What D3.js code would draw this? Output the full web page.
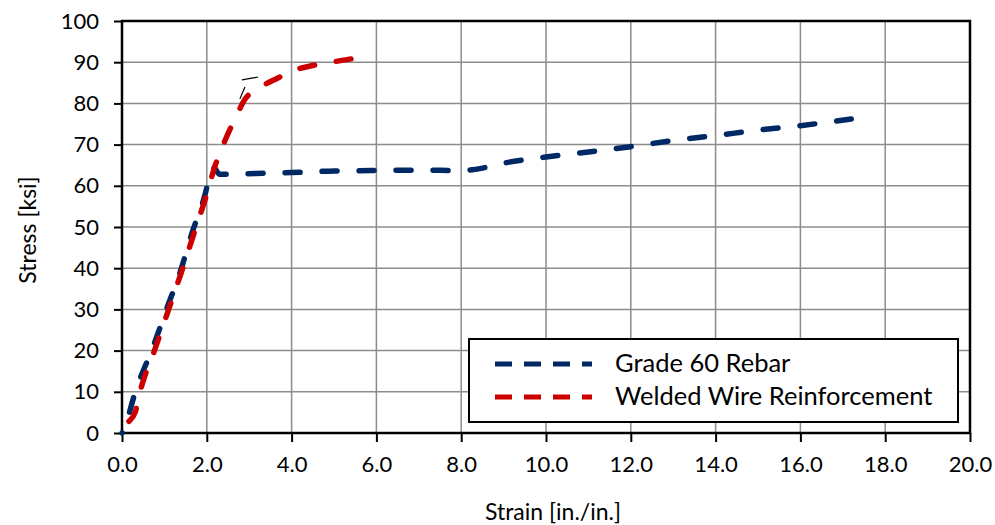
<!DOCTYPE html>
<html><head><meta charset="utf-8">
<script src="https://cdn.jsdelivr.net/npm/d3@7"></script>
<style>body{margin:0;background:#fff}svg{display:block}text{font-family:Lato,"Open Sans",sans-serif;fill:#000}</style>
</head><body>
<svg id="c" width="995" height="525"></svg>
<script>
const xTicks = [0,2,4,6,8,10,12,14,16,18,20];
const yTicks = [0,10,20,30,40,50,60,70,80,90,100];
const seriesNames = ["Grade 60 Rebar","Welded Wire Reinforcement"];
const seriesColors = ["#002864","#cc0000"];
const rebar = [[0,0],[0.1,2.5],[0.3,9.5],[0.75,21.4],[1.06,30.3],[1.37,39],[1.65,48.5],[1.95,57.5],[2.1,63.5],[2.17,64.3],[2.3,62.8],[2.8,62.9],[3.5,63.1],[4.0,63.2],[5.0,63.6],[6.0,63.7],[7.0,63.8],[8.0,63.7],[8.5,64.3],[9.0,65.5],[10.0,67],[11.0,68.2],[12.0,69.5],[13.0,71],[14.0,72.2],[15.0,73.5],[16.0,74.6],[17.2,76.2]];
const wwr = [[0,0],[0.1,2],[0.31,5],[0.4,9],[0.8,21],[1.1,30],[1.4,39],[1.7,48.5],[2.0,58],[2.2,65],[2.43,71],[2.7,77],[2.9,81],[3.1,83],[3.3,84.2],[3.7,86.3],[4.1,88.2],[4.5,89.2],[5.0,90.1],[5.4,90.8]];
const annot = [[[2.78,81.1],[2.9,84.0]],[[2.83,85.7],[3.21,86.4]]];

const svg = d3.select("#c");
const m = {l:122,t:21,r:970,b:433};
const x = d3.scaleLinear().domain([0,20]).range([m.l,m.r]);
const y = d3.scaleLinear().domain([0,100]).range([m.b,m.t]);

// grid
svg.append("g").selectAll("line").data(xTicks.slice(1,-1)).join("line")
  .attr("x1",d=>x(d)).attr("x2",d=>x(d)).attr("y1",m.t).attr("y2",m.b)
  .attr("stroke","#8c8c8c").attr("stroke-width",1.5);
svg.append("g").selectAll("line").data(yTicks.slice(1,-1)).join("line")
  .attr("y1",d=>y(d)).attr("y2",d=>y(d)).attr("x1",m.l).attr("x2",m.r)
  .attr("stroke","#8c8c8c").attr("stroke-width",1.5);

// axes
const xa = svg.append("g").attr("transform",`translate(0,${m.b})`)
  .call(d3.axisBottom(x).tickValues(xTicks).tickFormat(d3.format(".1f")).tickSize(9).tickPadding(14));
const ya = svg.append("g").attr("transform",`translate(${m.l},0)`)
  .call(d3.axisLeft(y).tickValues(yTicks).tickSize(8).tickPadding(15));
[xa,ya].forEach(a=>{
  a.select(".domain").remove();
  a.selectAll(".tick line").attr("stroke","#000").attr("stroke-width",2);
  a.selectAll(".tick text").style("font-size","22px").style("font-family","Lato, sans-serif");
});
svg.append("rect").attr("x",m.l).attr("y",m.t).attr("width",m.r-m.l).attr("height",m.b-m.t)
  .attr("fill","none").attr("stroke","#000").attr("stroke-width",2.5);

// lines
const line = d3.line().x(d=>x(d[0])).y(d=>y(d[1])).curve(d3.curveMonotoneX);
const dash = 15, gap = 22, period = dash + gap;
[rebar,wwr].forEach((s,i)=>{
  const p = svg.append("path").attr("d",line(s)).attr("fill","none")
    .attr("stroke",seriesColors[i]).attr("stroke-width",5.5)
    .attr("stroke-dasharray",`${dash},${gap}`).attr("stroke-linecap","round");
  const L = p.node().getTotalLength();
  const off = (((dash - L) % period) + period) % period;
  p.attr("stroke-dashoffset", off);
});
svg.append("g").selectAll("line").data(annot).join("line")
  .attr("x1",d=>x(d[0][0])).attr("y1",d=>y(d[0][1])).attr("x2",d=>x(d[1][0])).attr("y2",d=>y(d[1][1]))
  .attr("stroke","#000").attr("stroke-width",1.2);

// legend
const lg = svg.append("g");
lg.append("rect").attr("x",469).attr("y",339).attr("width",489).attr("height",83)
  .attr("fill","#fff").attr("stroke","#000").attr("stroke-width",2);
seriesNames.forEach((n,i)=>{
  const yy = 364+i*33;
  lg.append("line").attr("x1",495).attr("x2",592).attr("y1",yy).attr("y2",yy)
    .attr("stroke",seriesColors[i]).attr("stroke-width",5).attr("stroke-dasharray","17,12");
  lg.append("text").attr("x",615).attr("y",yy+8).style("font-size","25.5px").text(n);
});

// axis titles
svg.append("text").attr("x",553).attr("y",520).attr("text-anchor","middle").style("font-size","23px").text("Strain [in./in.]");
svg.append("text").attr("transform","translate(36,230) rotate(-90)").attr("text-anchor","middle").style("font-size","23px").text("Stress [ksi]");
</script>
</body></html>
